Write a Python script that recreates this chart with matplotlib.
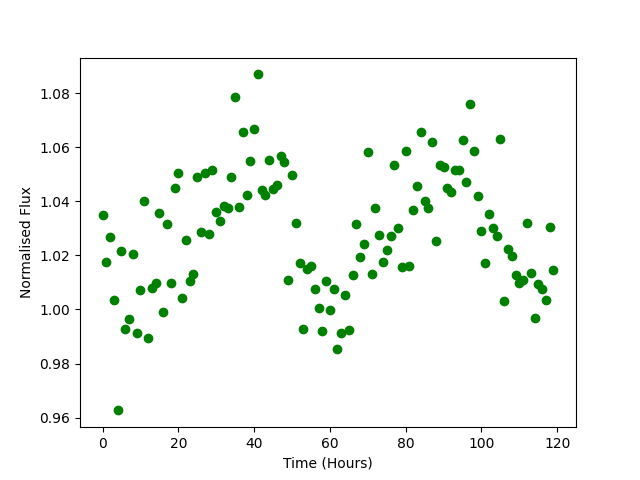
import numpy as np
import matplotlib
matplotlib.use('Agg')
import matplotlib.pyplot as plt

hours = np.arange(120)

flux = [1.035, 1.0175, 1.0267, 1.0036, 0.9627, 1.0217, 0.9929, 0.9964, 1.0204, 0.9913,
        1.0073, 1.040, 0.9895, 1.0079, 1.0098, 1.0356, 0.9991, 1.0316, 1.0098, 1.0448,
        1.0503, 1.0043, 1.0256, 1.0105, 1.0131, 1.0489, 1.0286, 1.0503, 1.0278, 1.0516,
        1.036, 1.0326, 1.0384, 1.0374, 1.0489, 1.0784, 1.0379, 1.0655, 1.0423, 1.0549,
        1.0666, 1.0869, 1.0442, 1.0424, 1.0553, 1.0445, 1.0459, 1.0566, 1.0544, 1.0109,
        1.0496, 1.032, 1.0172, 0.9929, 1.0149, 1.0161, 1.0075, 1.0006, 0.992, 1.0106,
        0.9999, 1.0075, 0.9855, 0.9913, 1.0054, 0.9925, 1.0128, 1.0316, 1.0193, 1.0242,
        1.0581, 1.0132, 1.0374, 1.0276, 1.0176, 1.022, 1.0272, 1.0533, 1.0301, 1.0156,
        1.0586, 1.016, 1.0367, 1.0457, 1.0656, 1.0401, 1.0375, 1.0619, 1.0252, 1.0533,
        1.0526, 1.0448, 1.0433, 1.0515, 1.0515, 1.0625, 1.047, 1.0758, 1.0585, 1.042,
        1.0289, 1.0172, 1.0352, 1.030, 1.0271, 1.0629, 1.0032, 1.0223, 1.0197, 1.0127,
        1.0097, 1.0108, 1.0319, 1.0134, 0.9969, 1.0095, 1.0075, 1.0036, 1.0305, 1.0146]

plt.figure(figsize=(6.4, 4.8), dpi=100)
plt.plot(hours, flux, 'go')
plt.xlabel('Time (Hours)')
plt.ylabel('Normalised Flux')
plt.savefig('out.png')
